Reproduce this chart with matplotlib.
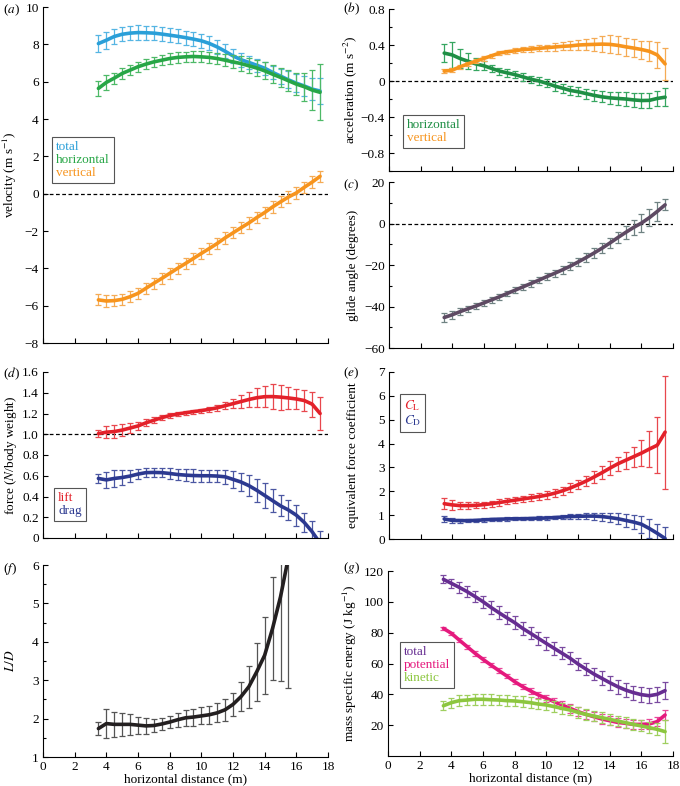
import numpy as np
import matplotlib
matplotlib.use('Agg')
import matplotlib.pyplot as plt

plt.rcParams['font.family'] = ['Liberation Serif', 'DejaVu Serif']
plt.rcParams['mathtext.fontset'] = 'stix'
plt.rcParams['font.size'] = 9.5

# horizontal distance (m)
dist = [3.5, 4.0, 4.5, 5.0, 5.5, 6.0, 6.5, 7.0, 7.5, 8.0, 8.5, 9.0, 9.5, 10.0, 10.5,
        11.0, 11.5, 12.0, 12.5, 13.0, 13.5, 14.0, 14.5, 15.0, 15.5, 16.0, 16.5, 17.0, 17.5]
dist_ld = dist[:25]

# (a) velocity
vel_total = [8.04, 8.22, 8.42, 8.54, 8.6, 8.63, 8.62, 8.6, 8.55, 8.49, 8.43, 8.36, 8.28, 8.19, 8.05,
             7.86, 7.63, 7.38, 7.18, 7.03, 6.88, 6.72, 6.5, 6.3, 6.1, 5.92, 5.77, 5.6, 5.5]
vel_total_err = [0.45, 0.45, 0.4, 0.38, 0.38, 0.38, 0.38, 0.38, 0.38, 0.38, 0.38, 0.38, 0.38, 0.38, 0.38,
                 0.38, 0.38, 0.38, 0.38, 0.35, 0.35, 0.35, 0.35, 0.4, 0.45, 0.5, 0.55, 0.6, 0.7]
vel_h = [5.64, 5.96, 6.19, 6.44, 6.62, 6.8, 6.94, 7.06, 7.15, 7.24, 7.3, 7.33, 7.35, 7.33, 7.3,
         7.24, 7.15, 7.06, 6.97, 6.85, 6.73, 6.58, 6.4, 6.23, 6.05, 5.87, 5.73, 5.55, 5.43]
vel_h_err = [0.42, 0.38, 0.3, 0.28, 0.28, 0.28, 0.28, 0.28, 0.28, 0.28, 0.28, 0.28, 0.28, 0.3, 0.3,
             0.3, 0.32, 0.35, 0.38, 0.4, 0.42, 0.45, 0.48, 0.52, 0.55, 0.6, 0.75, 1.05, 1.5]
vel_v = [-5.69, -5.75, -5.73, -5.66, -5.52, -5.34, -5.07, -4.8, -4.54, -4.27, -4.0, -3.74, -3.47, -3.2, -2.94,
         -2.67, -2.37, -2.1, -1.83, -1.57, -1.28, -1.01, -0.71, -0.44, -0.18, 0.04, 0.34, 0.62, 0.93]
vel_v_err = [0.3, 0.3, 0.3, 0.3, 0.3, 0.3, 0.3, 0.3, 0.3, 0.3, 0.3, 0.3, 0.3, 0.3, 0.3,
             0.3, 0.3, 0.3, 0.3, 0.3, 0.3, 0.3, 0.3, 0.3, 0.3, 0.3, 0.3, 0.3, 0.28]

# (b) acceleration
acc_h = [0.31, 0.29, 0.25, 0.22, 0.19, 0.17, 0.14, 0.11, 0.09, 0.07, 0.045, 0.02, 0.0, -0.026, -0.056,
         -0.08, -0.105, -0.12, -0.14, -0.16, -0.176, -0.187, -0.194, -0.2, -0.21, -0.217, -0.215, -0.194, -0.18]
acc_h_err = [0.1, 0.14, 0.11, 0.09, 0.07, 0.05, 0.04, 0.04, 0.04, 0.04, 0.04, 0.04, 0.045, 0.045, 0.05,
             0.05, 0.05, 0.05, 0.055, 0.06, 0.06, 0.065, 0.07, 0.075, 0.08, 0.08, 0.08, 0.08, 0.1]
acc_v = [0.11, 0.12, 0.157, 0.19, 0.22, 0.25, 0.28, 0.31, 0.325, 0.336, 0.35, 0.355, 0.363, 0.37, 0.378,
         0.385, 0.39, 0.4, 0.404, 0.407, 0.41, 0.407, 0.396, 0.38, 0.366, 0.35, 0.33, 0.29, 0.19]
acc_v_err = [0.02, 0.02, 0.02, 0.02, 0.025, 0.025, 0.025, 0.025, 0.025, 0.03, 0.03, 0.03, 0.035, 0.035, 0.04,
             0.045, 0.05, 0.055, 0.065, 0.075, 0.09, 0.1, 0.1, 0.1, 0.1, 0.1, 0.11, 0.14, 0.18]

# (c) glide angle
glide = [-45.3, -44.0, -42.5, -41.1, -39.8, -38.3, -36.8, -35.3, -33.7, -32.1, -30.5, -28.9, -27.3, -25.6, -24.0,
         -22.3, -20.5, -18.5, -16.4, -14.2, -11.9, -9.4, -6.8, -4.3, -1.9, 0.2, 2.8, 5.8, 9.0]
glide_err = [2.4, 2.0, 1.7, 1.5, 1.4, 1.4, 1.4, 1.4, 1.4, 1.5, 1.5, 1.5, 1.6, 1.6, 1.7,
             1.8, 1.9, 2.0, 2.1, 2.2, 2.3, 2.4, 2.6, 3.0, 3.8, 4.4, 4.0, 4.5, 2.7]

# (d) force
lift = [1.006, 1.02, 1.026, 1.04, 1.06, 1.08, 1.11, 1.135, 1.16, 1.18, 1.195, 1.207, 1.218, 1.228, 1.24,
        1.255, 1.275, 1.295, 1.315, 1.335, 1.352, 1.362, 1.363, 1.358, 1.35, 1.34, 1.325, 1.29, 1.2]
lift_err = [0.035, 0.06, 0.06, 0.055, 0.045, 0.04, 0.035, 0.03, 0.025, 0.025, 0.02, 0.02, 0.02, 0.02, 0.025,
            0.03, 0.035, 0.045, 0.06, 0.075, 0.09, 0.1, 0.12, 0.12, 0.11, 0.1, 0.1, 0.12, 0.155]
drag = [0.574, 0.56, 0.574, 0.583, 0.597, 0.616, 0.63, 0.632, 0.63, 0.622, 0.612, 0.606, 0.602, 0.6, 0.6,
        0.597, 0.59, 0.565, 0.54, 0.505, 0.46, 0.41, 0.36, 0.31, 0.27, 0.22, 0.15, 0.06, -0.05]
drag_err = [0.04, 0.08, 0.08, 0.07, 0.06, 0.05, 0.04, 0.04, 0.04, 0.05, 0.05, 0.06, 0.06, 0.06, 0.06,
            0.06, 0.07, 0.08, 0.09, 0.1, 0.11, 0.12, 0.11, 0.1, 0.1, 0.1, 0.09, 0.1, 0.12]

# (e) force coefficients
cl = [1.48, 1.43, 1.4, 1.4, 1.41, 1.44, 1.48, 1.53, 1.58, 1.63, 1.68, 1.73, 1.78, 1.84, 1.92,
      2.02, 2.14, 2.28, 2.43, 2.6, 2.78, 2.97, 3.15, 3.3, 3.45, 3.6, 3.77, 3.93, 4.48]
cl_err = [0.24, 0.2, 0.15, 0.13, 0.13, 0.13, 0.13, 0.13, 0.13, 0.14, 0.14, 0.15, 0.15, 0.16, 0.17,
          0.18, 0.19, 0.2, 0.22, 0.24, 0.26, 0.28, 0.3, 0.35, 0.42, 0.55, 0.74, 1.17, 2.37]
cd = [0.84, 0.78, 0.77, 0.77, 0.78, 0.8, 0.82, 0.83, 0.84, 0.85, 0.85, 0.86, 0.87, 0.88, 0.9,
      0.92, 0.94, 0.95, 0.96, 0.96, 0.94, 0.9, 0.85, 0.78, 0.71, 0.62, 0.44, 0.24, 0.02]
cd_err = [0.12, 0.1, 0.08, 0.07, 0.07, 0.07, 0.07, 0.07, 0.07, 0.07, 0.07, 0.08, 0.08, 0.08, 0.08,
          0.09, 0.1, 0.11, 0.13, 0.15, 0.17, 0.2, 0.23, 0.27, 0.31, 0.35, 0.38, 0.4, 0.48]

# (f) lift to drag
ld = [1.74, 1.87, 1.85, 1.85, 1.85, 1.83, 1.81, 1.82, 1.86, 1.91, 1.97, 2.02, 2.04, 2.07, 2.1,
      2.15, 2.23, 2.37, 2.57, 2.83, 3.22, 3.65, 4.35, 5.17, 6.2]
ld_err = [0.17, 0.38, 0.33, 0.3, 0.27, 0.22, 0.2, 0.18, 0.15, 0.15, 0.18, 0.2, 0.22, 0.22, 0.23,
          0.25, 0.28, 0.3, 0.38, 0.55, 0.75, 1.0, 1.35, 2.2, 3.4]

# (g) mass specific energy
en_total = [114.6, 112.0, 109.4, 106.6, 103.4, 100.1, 96.4, 93.0, 89.7, 86.5, 82.8, 79.6, 76.3, 73.0, 69.8,
            66.6, 63.4, 59.7, 56.4, 53.2, 50.4, 47.6, 45.0, 42.8, 41.1, 39.8, 39.1, 40.0, 42.4]
en_total_err = [2.5, 3, 3.5, 3.5, 3.5, 4, 4, 4, 4, 4, 4, 4, 4, 4, 4,
                4, 4, 4, 4, 4, 4.5, 4.5, 4.5, 4.5, 4.5, 5, 5, 5, 5.5]
en_pot = [82.8, 79.6, 75.2, 70.9, 66.6, 62.7, 59.0, 55.4, 51.9, 48.2, 45.0, 42.2, 39.6, 37.4, 35.2,
          33.1, 30.9, 28.8, 27.0, 25.5, 24.0, 22.9, 21.8, 21.2, 20.5, 20.5, 20.8, 22.3, 26.6]
en_pot_err = [1, 1, 1.2, 1.3, 1.5, 1.5, 1.5, 1.5, 1.6, 1.7, 1.8, 2, 2, 2.2, 2.3,
              2.5, 2.7, 2.8, 3, 3, 3, 3, 3, 3, 3, 3, 3, 3, 3]
en_kin = [32.6, 34.6, 35.9, 36.3, 36.8, 36.8, 36.5, 36.3, 35.9, 35.7, 35.2, 34.6, 33.7, 33.1, 32.0,
          30.9, 29.8, 28.3, 27.0, 25.9, 24.9, 23.8, 22.7, 21.6, 20.5, 19.5, 18.4, 17.3, 15.8]
en_kin_err = [3, 3.3, 3.5, 3.5, 3.5, 3.5, 3.5, 3.5, 3.5, 3.5, 3.5, 3.5, 3.5, 3.5, 3.5,
              3.5, 3.5, 3.5, 3.5, 3.5, 3.5, 3.5, 3.5, 3.5, 3.5, 3.6, 3.8, 4, 7.5]

W, H = 680, 786
fig = plt.figure(figsize=(W / 100, H / 100), dpi=100)


def make_ax(left, top, right, bottom):
    # pixel box -> figure fraction
    ax = fig.add_axes([left / W, 1 - bottom / H, (right - left) / W, (bottom - top) / H])
    ax.spines['top'].set_visible(False)
    ax.spines['right'].set_visible(False)
    ax.spines['left'].set_linewidth(0.8)
    ax.spines['bottom'].set_linewidth(0.8)
    ax.tick_params(direction='in', length=3.5, width=0.8, pad=3, labelsize=9.5)
    ax.tick_params(which='minor', direction='in', length=2.5, width=0.8)
    ax.set_xlim(0, 18)
    ax.set_xticks(np.arange(0, 19, 2))
    return ax


def series(ax, x, y, e, color, ecolor, z=2):
    ax.errorbar(x, y, yerr=e, fmt='none', ecolor=ecolor, elinewidth=0.9,
                capsize=2, capthick=0.9, zorder=z)
    line, = ax.plot(x, y, color=color, lw=2.6, solid_capstyle='round', zorder=z + 0.5)
    return line


def legend(ax, handles, labels, x0, y1):
    leg = ax.legend(handles, labels, loc='upper left', bbox_to_anchor=(x0, y1),
                    handlelength=0, handletextpad=0, labelcolor='linecolor',
                    fontsize=9.5, frameon=True, fancybox=False, framealpha=1,
                    borderpad=0.3, labelspacing=0.05, borderaxespad=0)
    leg.get_frame().set_edgecolor('#555555')
    leg.get_frame().set_linewidth(0.8)


def zero_line(ax, y=0):
    ax.axhline(y, color='black', lw=0.9, ls=(0, (3, 2)), zorder=1)


def ylabel(ax, text, right_px, left_px, width_px):
    ax.set_ylabel(text, fontsize=9.5)
    ax.yaxis.set_label_coords((right_px - left_px) / width_px, 0.5)


blue = '#2a9fd8'
green = '#27a646'
orange = '#f7941d'
dgreen = '#1f8f45'
red = '#e3212a'
navy = '#2c3990'

# (a)
ax = make_ax(43, 7, 328, 343)
zero_line(ax)
l1 = series(ax, dist, vel_total, vel_total_err, blue, '#55b5e3')
l2 = series(ax, dist, vel_h, vel_h_err, green, '#4db967', z=3)
l3 = series(ax, dist, vel_v, vel_v_err, orange, '#f5ab55')
ax.set_ylim(-8, 10)
ax.set_yticks(np.arange(-8, 11, 2))
ax.tick_params(labelbottom=False)
ylabel(ax, 'velocity (m s$^{-1}$)', 19, 43, 285)
legend(ax, [l1, l2, l3], ['total', 'horizontal', 'vertical'], 0.032, 0.613)

# (b)
ax = make_ax(389, 9, 673, 171)
zero_line(ax)
l1 = series(ax, dist, acc_h, acc_h_err, dgreen, '#36a660')
l2 = series(ax, dist, acc_v, acc_v_err, orange, '#f5ab55', z=3)
ax.set_ylim(-1.0, 0.8)
ax.set_yticks([-0.8, -0.4, 0, 0.4, 0.8])
ax.set_yticklabels(['\u22120.8', '\u22120.4', '0', '0.4', '0.8'])
ax.set_yticks(np.arange(-1.0, 0.81, 0.2), minor=True)
ax.tick_params(labelbottom=False)
ylabel(ax, 'acceleration (m s$^{-2}$)', 359, 389, 284)
legend(ax, [l1, l2], ['horizontal', 'vertical'], 0.049, 0.346)

# (c)
ax = make_ax(389, 182, 673, 348)
zero_line(ax)
series(ax, dist, glide, glide_err, '#5e4a63', '#6f8282')
ax.set_ylim(-60, 20)
ax.set_yticks(np.arange(-60, 21, 20))
ax.set_yticks(np.arange(-60, 21, 10), minor=True)
ax.tick_params(labelbottom=False)
ylabel(ax, 'glide angle (degrees)', 359, 389, 284)

# (d)
ax = make_ax(43, 372, 328, 538)
zero_line(ax, 1.0)
l1 = series(ax, dist, lift, lift_err, red, '#e8474d')
l2 = series(ax, dist, drag, drag_err, navy, '#4b57a2')
ax.set_ylim(0, 1.6)
ax.set_yticks(np.arange(0, 1.61, 0.2))
ax.set_yticklabels(['0', '0.2', '0.4', '0.6', '0.8', '1.0', '1.2', '1.4', '1.6'])
ax.tick_params(labelbottom=False)
ylabel(ax, 'force ($N$/body weight)', 19, 43, 285)
legend(ax, [l1, l2], ['lift', 'drag'], 0.039, 0.301)

# (e)
ax = make_ax(389, 372, 673, 539)
l1 = series(ax, dist, cl, cl_err, red, '#e8474d')
l2 = series(ax, dist, cd, cd_err, navy, '#4b57a2')
ax.set_ylim(0, 7)
ax.set_yticks(np.arange(0, 8, 1))
ax.tick_params(labelbottom=False)
ylabel(ax, 'equivalent force coefficient', 359, 389, 284)
legend(ax, [l1, l2], ['$C_{\\mathrm{L}}$', '$C_{\\mathrm{D}}$'], 0.039, 0.868)

# (f)
ax = make_ax(43, 565, 328, 757)
series(ax, dist_ld, ld, ld_err, '#231f20', '#555555')
ax.set_ylim(1, 6)
ax.set_yticks(np.arange(1, 7, 1))
ax.set_yticks(np.arange(1, 6.1, 0.5), minor=True)
ylabel(ax, '$L/D$', 17, 43, 285)
ax.set_xlabel('horizontal distance (m)', fontsize=9.5)
ax.xaxis.set_label_coords(0.5, -0.085)

# (g)
ax = make_ax(388, 571, 673, 756)
l1 = series(ax, dist, en_total, en_total_err, '#662d91', '#7a4aa0')
l2 = series(ax, dist, en_pot, en_pot_err, '#e5197d', '#e8479a')
l3 = series(ax, dist, en_kin, en_kin_err, '#8cc63f', '#9fcf5f', z=3)
ax.set_ylim(0, 120)
ax.set_yticks(np.arange(20, 121, 20))
ylabel(ax, 'mass specific energy (J kg$^{-1}$)', 359, 388, 285)
ax.set_xlabel('horizontal distance (m)', fontsize=9.5)
ax.xaxis.set_label_coords(0.5, -0.09)
legend(ax, [l1, l2, l3], ['total', 'potential', 'kinetic'], 0.042, 0.616)

# panel letters
for lab, px, py in [('a', 3, 10), ('b', 343, 9), ('c', 343, 185), ('d', 3, 374),
                    ('e', 343, 373), ('f', 3, 569), ('g', 343, 568)]:
    fig.text(px / W, 1 - py / H, '($%s$)' % lab, fontsize=9.5, va='center', ha='left')

fig.savefig('out.png', dpi=100)
